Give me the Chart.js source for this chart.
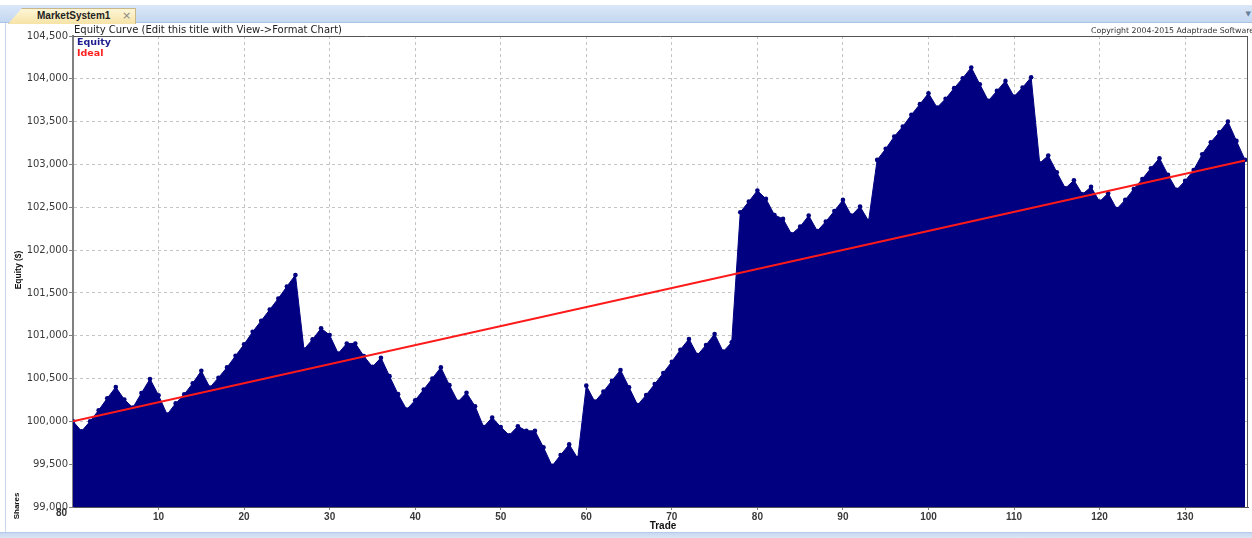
<!DOCTYPE html>
<html>
<head>
<meta charset="utf-8">
<script src="https://cdn.jsdelivr.net/npm/chart.js@4"></script>
<style>
  html, body { margin: 0; padding: 0; background: #fff; }
  body { width: 1252px; height: 538px; overflow: hidden; position: relative; font-family: "DejaVu Sans", Arial, sans-serif; }
  #wrap { position: absolute; left: 0; top: 0; width: 1252px; height: 538px; }
  .abs { position: absolute; white-space: nowrap; }
  #tabbar { left: 0; top: 5px; width: 1252px; height: 17px; background: linear-gradient(#dbe7f8, #c4d8f1); border-bottom: 1px solid #a9c3e6; }
  #tab { left: 8px; top: 8px; width: 126px; height: 15px; background: linear-gradient(#fdf5d6, #f6e3a6); border: 1px solid #c9b787; border-bottom: none; clip-path: polygon(14px 0, 100% 0, 100% 100%, 0 100%); }
  #tab span.name { position: absolute; left: 28px; top: 1px; font-family: Arial, "Liberation Sans", sans-serif; font-size: 10px; font-weight: bold; color: #222; }
  #tab span.x { position: absolute; left: 113px; top: 0px; font-size: 11px; color: #888; }
  #arrow { right: 1px; top: 10px; font-size: 7px; color: #6a7f9c; }
  #leftline { left: 5px; top: 23px; width: 1px; height: 509px; background: #c9d8ec; }
  #bottomband { left: 0; top: 532px; width: 1252px; height: 6px; background: linear-gradient(#c6d8f0, #dfe9f7); border-top: 1px solid #b5cbe9; }
  #title { left: 74px; top: 24px; font-size: 10px; color: #222; }
  #copy { left: 1091px; top: 26px; font-size: 7.8px; color: #333; }
  #legend { left: 77px; top: 36px; font-size: 9.5px; font-weight: bold; line-height: 11px; }
  #ytitle { left: 18px; top: 270px; font-family: Arial, "Liberation Sans", sans-serif; font-size: 8.5px; font-weight: bold; color: #111; transform: translate(-50%, -50%) rotate(-90deg); }
  #shares { left: 16px; top: 506px; font-family: Arial, "Liberation Sans", sans-serif; font-size: 8px; font-weight: bold; color: #111; transform: translate(-50%, -50%) rotate(-90deg); }
  #eighty { left: 56px; top: 507px; font-family: Arial, "Liberation Sans", sans-serif; font-size: 10px; font-weight: bold; color: #333; }
  #xtitle { left: 663px; top: 520px; font-family: Arial, "Liberation Sans", sans-serif; font-size: 10px; font-weight: bold; color: #111; transform: translateX(-50%); }
</style>
</head>
<body>
<div id="wrap"><canvas id="chart" width="1252" height="538"></canvas></div>

<div class="abs" id="tabbar"></div>
<div class="abs" id="tab"><span class="name">MarketSystem1</span><span class="x">×</span></div>
<div class="abs" id="arrow">▼</div>
<div class="abs" id="leftline"></div>
<div class="abs" id="bottomband"></div>
<div class="abs" id="title">Equity Curve (Edit this title with View-&gt;Format Chart)</div>
<div class="abs" id="copy">Copyright 2004-2015 Adaptrade Software</div>
<div class="abs" id="legend"><div style="color:#1f1f8f">Equity</div><div style="color:#ff2020">Ideal</div></div>
<div class="abs" id="ytitle">Equity ($)</div>
<div class="abs" id="shares">Shares</div>
<div class="abs" id="eighty">80</div>
<div class="abs" id="xtitle">Trade</div>

<script>
// equity after each trade (trade 0 = starting equity)
const equity = [
  100000, 99885, 100000, 100130, 100270, 100400, 100255, 100160, 100330, 100495,
  100305, 100080, 100210, 100315, 100445, 100590, 100395, 100510, 100630, 100765,
  100900, 101045, 101175, 101305, 101435, 101575, 101710, 100840, 100957, 101086,
  101008, 100793, 100910, 100910, 100762, 100637, 100743, 100528, 100318, 100138,
  100247, 100372, 100501, 100630, 100423, 100228, 100333, 100177, 99935, 100045,
  99935, 99838, 99943, 99889, 99889, 99696, 99480, 99607, 99731, 99568,
  100417, 100230, 100347, 100475, 100600, 100397, 100191, 100308, 100436, 100565,
  100697, 100837, 100962, 100775, 100892, 101020, 100814, 100923, 102442, 102567,
  102695, 102598, 102410, 102364, 102185, 102274, 102403, 102223, 102333, 102457,
  102586, 102403, 102508, 102340, 103053, 103182, 103326, 103443, 103579, 103704,
  103832, 103665, 103766, 103891, 104007, 104132, 103937, 103743, 103859, 103975,
  103793, 103898, 104019, 103014, 103104, 102909, 102722, 102815, 102652, 102738,
  102566, 102664, 102480, 102586, 102714, 102831, 102956, 103073, 102878, 102703,
  102808, 102936, 103119, 103260, 103376, 103501, 103275, 103053
];

// ideal straight line, start and end
const idealTrades = [0, 137];
const idealEquity = [100000, 103045];

const xTicks = [10, 20, 30, 40, 50, 60, 70, 80, 90, 100, 110, 120, 130];

const navy = "#000080";

// frame line on top / right of plot
const framePlugin = {
  id: "frame",
  afterDraw(chart) {
    const { ctx, chartArea: a } = chart;
    ctx.save();
    ctx.strokeStyle = "#555";
    ctx.lineWidth = 1;
    ctx.beginPath();
    ctx.moveTo(a.left, a.top + 0.5);
    ctx.lineTo(a.right, a.top + 0.5);
    ctx.moveTo(a.right - 0.5, a.top);
    ctx.lineTo(a.right - 0.5, a.bottom);
    ctx.stroke();
    ctx.restore();
  }
};

new Chart(document.getElementById("chart"), {
  type: "line",
  data: {
    datasets: [
      {
        label: "Equity",
        data: equity.map((v, i) => ({ x: i, y: v })),
        borderColor: navy,
        backgroundColor: navy,
        borderWidth: 1,
        pointRadius: 2.3,
        pointBackgroundColor: navy,
        pointBorderWidth: 0,
        fill: "start",
        tension: 0,
        order: 2
      },
      {
        label: "Ideal",
        data: idealTrades.map((t, i) => ({ x: t, y: idealEquity[i] })),
        borderColor: "#ff1a1a",
        borderWidth: 2,
        pointRadius: 0,
        fill: false,
        order: 1
      }
    ]
  },
  options: {
    responsive: false,
    animation: false,
    layout: { padding: { top: 36, right: 2, left: 0, bottom: 0 } },
    plugins: {
      legend: { display: false },
      tooltip: { enabled: false }
    },
    scales: {
      x: {
        type: "linear",
        min: 0,
        max: 137.35,
        afterBuildTicks: (scale) => { scale.ticks = xTicks.map(v => ({ value: v })); },
        afterFit: (scale) => { scale.height = 31; },
        ticks: {
          font: { family: "Arial", size: 10, weight: "bold" },
          color: "#3a3a3a",
          padding: 1,
          maxRotation: 0
        },
        grid: { color: "#c4c4c4", tickColor: "#808080", tickLength: 3 },
        border: { color: "#555", width: 1, dash: [3, 3] }
      },
      y: {
        min: 99000,
        max: 104500,
        afterFit: (scale) => { scale.width = 73; },
        ticks: {
          stepSize: 500,
          font: { family: "DejaVu Sans", size: 10 },
          color: "#3a3a3a",
          padding: 1,
          callback: (v) => v.toLocaleString("en-US")
        },
        grid: { color: "#c4c4c4", tickColor: "#808080", tickLength: 4 },
        border: { color: "#808080", width: 2, dash: [3, 3] }
      }
    }
  },
  plugins: [framePlugin]
});
</script>
</body>
</html>
